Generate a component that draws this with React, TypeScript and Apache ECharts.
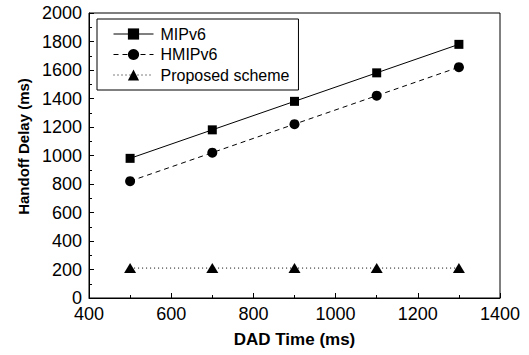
import React, { useEffect, useRef } from "react";
import * as echarts from "echarts";

const dadTimes = [500, 700, 900, 1100, 1300];
const mipv6 = [980, 1180, 1380, 1580, 1780];
const hmipv6 = [820, 1020, 1220, 1420, 1620];
const proposed = [210, 210, 210, 210, 210];
const seriesNames = ["MIPv6", "HMIPv6", "Proposed scheme"];

const FONT = "'Liberation Sans', Arial, Helvetica, sans-serif";

export default function App() {
  const ref = useRef<HTMLDivElement>(null);
  useEffect(() => {
    if (!ref.current) return;
    const chart = echarts.init(ref.current, undefined, { renderer: "svg" });
    const pair = (ys: number[]) => dadTimes.map((x, i) => [x, ys[i]]);
    const plain = (v: number) => String(v);
    chart.setOption({
      animation: false,
      backgroundColor: "#ffffff",
      textStyle: { fontFamily: FONT, color: "#000" },
      grid: {
        left: 89,
        right: 29,
        top: 13,
        bottom: 57,
        show: true,
        borderColor: "#000",
        borderWidth: 1,
        backgroundColor: "transparent",
      },
      legend: {
        orient: "vertical",
        left: 97,
        top: 19,
        padding: [7, 9, 7, 16],
        itemWidth: 40,
        itemHeight: 14,
        itemGap: 4.5,
        backgroundColor: "#fff",
        borderColor: "#000",
        borderWidth: 1,
        borderRadius: 0,
        lineStyle: { width: 1, color: "#000" },
        textStyle: { fontFamily: FONT, fontSize: 16, color: "#000", padding: [0, 0, 0, 2] },
        data: seriesNames,
      },
      xAxis: {
        type: "value",
        min: 400,
        max: 1400,
        interval: 200,
        name: "DAD Time (ms)",
        nameLocation: "middle",
        nameGap: 33,
        nameTextStyle: { fontFamily: FONT, fontSize: 17, fontWeight: "bold", color: "#000" },
        axisLine: { show: true, lineStyle: { color: "#000", width: 1 } },
        axisTick: { show: true, inside: true, length: 5, lineStyle: { color: "#000" } },
        minorTick: { show: true, splitNumber: 2, length: 3, lineStyle: { color: "#000" } },
        splitLine: { show: false },
        axisLabel: {
          fontFamily: FONT,
          fontSize: 18,
          lineHeight: 16,
          color: "#000",
          margin: 8,
          formatter: plain,
        },
      },
      yAxis: {
        type: "value",
        min: 0,
        max: 2000,
        interval: 200,
        name: "Handoff Delay (ms)",
        nameLocation: "middle",
        nameRotate: 90,
        nameGap: 57,
        nameTextStyle: {
          fontFamily: FONT,
          fontSize: 15,
          fontWeight: "bold",
          color: "#000",
          padding: [0, 0, 0, 18],
        },
        axisLine: { show: true, lineStyle: { color: "#000", width: 1 } },
        axisTick: { show: true, inside: true, length: 5, lineStyle: { color: "#000" } },
        minorTick: { show: true, splitNumber: 2, length: 3, lineStyle: { color: "#000" } },
        splitLine: { show: false },
        axisLabel: {
          fontFamily: FONT,
          fontSize: 18,
          lineHeight: 14,
          color: "#000",
          margin: 7,
          formatter: plain,
        },
      },
      series: [
        {
          name: seriesNames[0],
          type: "line",
          data: pair(mipv6),
          symbol: "rect",
          symbolSize: 9,
          color: "#000",
          lineStyle: { color: "#000", width: 1, type: "solid" },
          itemStyle: { color: "#000" },
        },
        {
          name: seriesNames[1],
          type: "line",
          data: pair(hmipv6),
          symbol: "circle",
          symbolSize: 10,
          color: "#000",
          lineStyle: { color: "#000", width: 1, type: [5, 4] },
          itemStyle: { color: "#000" },
        },
        {
          name: seriesNames[2],
          type: "line",
          data: pair(proposed),
          symbol: "triangle",
          symbolSize: [12, 10],
          color: "#000",
          lineStyle: { color: "#000", width: 1, type: [1, 3] },
          itemStyle: { color: "#000" },
        },
      ],
    });
    return () => chart.dispose();
  }, []);
  return (
    <div
      ref={ref}
      style={{ position: "fixed", left: 0, top: 0, width: 529, height: 355, background: "#fff" }}
    />
  );
}
